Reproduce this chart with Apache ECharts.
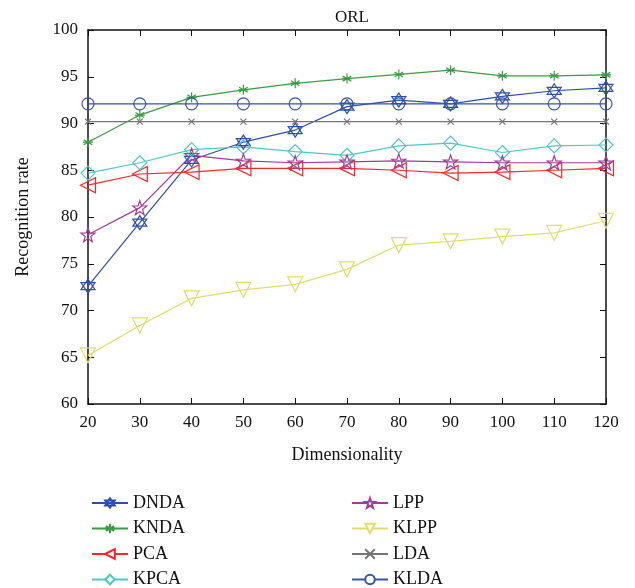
<!DOCTYPE html>
<html><head><meta charset="utf-8">
<script src="https://cdn.jsdelivr.net/npm/echarts@6/dist/echarts.min.js"></script>
<style>html,body{margin:0;padding:0;background:#fff}#c{width:635px;height:588px}</style>
</head><body><div id="c"></div>
<script>
const dims = [20, 30, 40, 50, 60, 70, 80, 90, 100, 110, 120];
const DNDA = [72.6, 79.4, 86.1, 88.0, 89.3, 91.8, 92.5, 92.1, 92.9, 93.5, 93.8];
const KNDA = [88.0, 90.9, 92.8, 93.6, 94.3, 94.8, 95.25, 95.7, 95.1, 95.1, 95.2];
const PCA  = [83.4, 84.6, 84.8, 85.2, 85.2, 85.2, 85.0, 84.7, 84.8, 85.0, 85.2];
const KPCA = [84.7, 85.8, 87.2, 87.5, 87.0, 86.6, 87.6, 87.9, 86.9, 87.6, 87.7];
const LPP  = [78.1, 81.0, 86.6, 86.0, 85.8, 85.9, 86.0, 85.9, 85.8, 85.8, 85.8];
const KLPP = [65.2, 68.4, 71.3, 72.2, 72.8, 74.4, 77.0, 77.4, 77.9, 78.3, 79.6];
const LDA  = [90.2, 90.2, 90.2, 90.2, 90.2, 90.2, 90.2, 90.2, 90.2, 90.2, 90.2];
const KLDA = [92.1, 92.1, 92.1, 92.1, 92.1, 92.1, 92.1, 92.1, 92.1, 92.1, 92.1];
const yTicks = [60, 65, 70, 75, 80, 85, 90, 95, 100];
const legendCol1 = ['DNDA', 'KNDA', 'PCA', 'KPCA'];
const legendCol2 = ['LPP', 'KLPP', 'LDA', 'KLDA'];

const FONT = 'Liberation Serif';
const hexagram = 'path://M0,-10 L8.66,5 L-8.66,5 Z M0,10 L8.66,-5 L-8.66,-5 Z';
const asterisk = 'path://M0,-10 L0,10 M-8.66,-5 L8.66,5 M-8.66,5 L8.66,-5 M-10,0 L10,0';
const pentagram = 'path://M0,-10 L2.35,-3.24 L9.51,-3.09 L3.8,1.24 L5.88,8.09 L0,4 L-5.88,8.09 L-3.8,1.24 L-9.51,-3.09 L-2.35,-3.24 Z';
const xmark = 'path://M-5,-5 L5,5 M-5,5 L5,-5';
const leftTri = 'path://M-10,0 L8,-9 L8,9 Z';
const downTri = 'path://M-9,-8 L9,-8 L0,9 Z';

function mk(name, vals, color, symbol, size) {
  return {
    name, type: 'line', data: dims.map((d, i) => [d, vals[i]]),
    symbol, symbolSize: size,
    lineStyle: { color, width: 1.2 },
    itemStyle: { color: 'rgba(255,255,255,0)', borderColor: color, borderWidth: 1.2 },
    emphasis: { disabled: true }, z: 3
  };
}

const series = [
  mk('DNDA', DNDA, '#2e4fa8', hexagram, 14),
  mk('KNDA', KNDA, '#3d9b45', asterisk, 10),
  mk('PCA', PCA, '#f62828', leftTri, 15),
  mk('KPCA', KPCA, '#52c6c8', 'path://M0,-10 L7,0 L0,10 L-7,0 Z', 14),
  mk('LPP', LPP, '#a03c9c', pentagram, 14),
  mk('KLPP', KLPP, '#dede6e', downTri, 15),
  mk('LDA', LDA, '#757575', xmark, 6),
  mk('KLDA', KLDA, '#3555a6', 'circle', 12)
];

const legends = [];
[[legendCol1, 86], [legendCol2, 346]].forEach(([names, left]) => {
  names.forEach((n, i) => {
    legends.push({ data: [{ name: n, itemStyle: { color: '#ffffff' } }], left, top: 489 + i * 25.5,
      itemWidth: 36, itemHeight: 12, selectedMode: false,
      textStyle: { fontFamily: FONT, fontSize: 18, color: '#111' } });
  });
});

const axisLabel = { fontFamily: FONT, fontSize: 17, color: '#111' };
const chart = echarts.init(document.getElementById('c'));
chart.setOption({
  animation: false,
  title: { text: 'ORL', left: 347, top: 4, textAlign: 'center',
    textStyle: { fontFamily: FONT, fontSize: 17, fontWeight: 'normal', color: '#111' } },
  grid: { left: 88, right: 29, top: 30, bottom: 184 },
  legend: legends,
  xAxis: [
    { type: 'value', min: 20, max: 120, interval: 10, position: 'bottom',
      name: 'Dimensionality', nameLocation: 'middle', nameGap: 42,
      nameTextStyle: { fontFamily: FONT, fontSize: 18, color: '#111' },
      axisLine: { lineStyle: { color: '#111', width: 1.5 } },
      axisTick: { inside: true, length: 6, lineStyle: { color: '#111' } },
      axisLabel: Object.assign({ margin: 10 }, axisLabel), splitLine: { show: false } },
    { type: 'value', min: 20, max: 120, interval: 10, position: 'top',
      axisLine: { show: true, lineStyle: { color: '#111', width: 1.5 } },
      axisTick: { inside: true, length: 6, lineStyle: { color: '#111' } },
      axisLabel: { show: false }, splitLine: { show: false } }
  ],
  yAxis: [
    { type: 'value', min: 60, max: 100, interval: 5, position: 'left',
      name: 'Recognition rate', nameLocation: 'middle', nameGap: 56,
      nameTextStyle: { fontFamily: FONT, fontSize: 18, color: '#111' },
      axisLine: { show: true, lineStyle: { color: '#111', width: 1.5 } },
      axisTick: { inside: true, length: 6, lineStyle: { color: '#111' } },
      axisLabel: Object.assign({ margin: 10, formatter: v => yTicks.includes(v) ? String(v) : '' }, axisLabel),
      splitLine: { show: false } },
    { type: 'value', min: 60, max: 100, interval: 5, position: 'right',
      axisLine: { show: true, lineStyle: { color: '#111', width: 1.5 } },
      axisTick: { inside: true, length: 6, lineStyle: { color: '#111' } },
      axisLabel: { show: false }, splitLine: { show: false } }
  ],
  series
});
</script></body></html>
